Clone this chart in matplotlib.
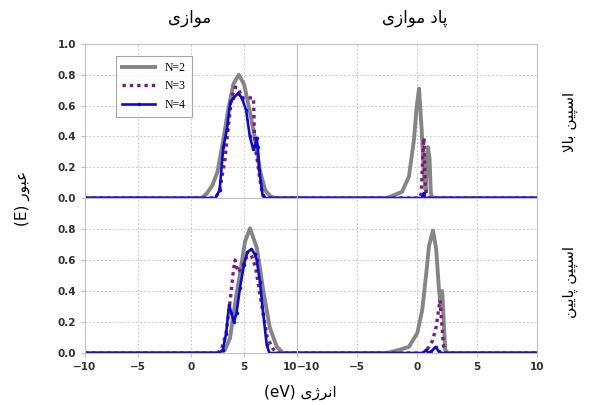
import matplotlib
matplotlib.use("Agg")
import matplotlib.pyplot as plt

# energies (eV) and transmission
# spin up, parallel
up_par_x2 = [-10, 1.0, 1.5, 2.0, 2.5, 3.0, 3.5, 4.0, 4.5, 5.0, 5.5, 6.0, 6.5, 7.0, 7.5, 8.0, 10]
up_par_y2 = [0, 0, 0.03, 0.08, 0.17, 0.36, 0.57, 0.74, 0.80, 0.74, 0.58, 0.40, 0.18, 0.05, 0.01, 0, 0]
up_par_x3 = [-10, 2.3, 2.7, 3.2, 3.5, 3.85, 4.2, 4.5, 4.8, 5.3, 5.9, 6.0, 6.2, 6.5, 6.75, 7.0, 10]
up_par_y3 = [0, 0, 0.05, 0.25, 0.45, 0.66, 0.72, 0.71, 0.65, 0.65, 0.65, 0.35, 0.27, 0.12, 0.02, 0, 0]
up_par_x4 = [-10, 2.3, 2.7, 3.05, 3.4, 3.7, 4.0, 4.45, 4.8, 5.2, 5.55, 5.85, 6.05, 6.2, 6.3, 6.45, 6.75, 7.0, 10]
up_par_y4 = [0, 0, 0.05, 0.33, 0.45, 0.62, 0.65, 0.68, 0.65, 0.57, 0.40, 0.32, 0.34, 0.39, 0.33, 0.18, 0.02, 0, 0]

# spin up, antiparallel
up_anti_x2 = [-10, -2.5, -1.25, -0.67, -0.25, -0.03, 0.17, 0.39, 0.58, 0.72, 0.85, 0.92, 1.05, 1.15, 1.3, 10]
up_anti_y2 = [0, 0, 0.04, 0.14, 0.38, 0.59, 0.71, 0.44, 0.14, 0.05, 0.30, 0.33, 0.25, 0.03, 0, 0]
up_anti_x3 = [-10, 0.2, 0.35, 0.5, 0.58, 0.68, 0.8, 1.0, 10]
up_anti_y3 = [0, 0, 0.03, 0.30, 0.39, 0.10, 0.02, 0, 0]
up_anti_x4 = [-10, 0.4, 0.55, 0.7, 10]
up_anti_y4 = [0, 0, 0.03, 0, 0]

# spin down, parallel
dn_par_x2 = [-10, 2.8, 3.2, 3.68, 4.0, 4.3, 4.62, 5.1, 5.57, 6.2, 6.5, 6.82, 7.45, 8.1, 8.7, 10]
dn_par_y2 = [0, 0, 0.02, 0.095, 0.25, 0.38, 0.51, 0.72, 0.805, 0.68, 0.55, 0.40, 0.16, 0.04, 0, 0]
dn_par_x3 = [-10, 2.5, 2.9, 3.3, 3.68, 4.0, 4.15, 4.45, 4.8, 5.25, 5.7, 6.1, 6.5, 6.82, 7.2, 7.7, 8.1, 10]
dn_par_y3 = [0, 0, 0.03, 0.12, 0.33, 0.53, 0.60, 0.52, 0.55, 0.62, 0.63, 0.55, 0.38, 0.25, 0.10, 0.03, 0, 0]
dn_par_x4 = [-10, 2.6, 3.0, 3.3, 3.6, 3.8, 4.05, 4.3, 4.62, 5.0, 5.3, 5.7, 6.0, 6.2, 6.5, 6.82, 7.15, 7.4, 10]
dn_par_y4 = [0, 0, 0.02, 0.12, 0.31, 0.26, 0.20, 0.26, 0.42, 0.57, 0.65, 0.67, 0.64, 0.60, 0.46, 0.25, 0.05, 0, 0]

# spin down, antiparallel
dn_anti_x2 = [-10, -2.5, -1.5, -0.67, 0.03, 0.44, 0.78, 1.0, 1.33, 1.6, 1.83, 1.95, 2.1, 2.2, 2.35, 2.6, 10]
dn_anti_y2 = [0, 0, 0.02, 0.04, 0.13, 0.28, 0.52, 0.69, 0.79, 0.67, 0.41, 0.33, 0.40, 0.25, 0.02, 0, 0]
dn_anti_x3 = [-10, 0.6, 1.0, 1.3, 1.6, 1.8, 1.92, 2.05, 2.2, 2.4, 10]
dn_anti_y3 = [0, 0, 0.04, 0.08, 0.17, 0.28, 0.34, 0.20, 0.05, 0, 0]
dn_anti_x4 = [-10, 0.5, 0.75, 0.95, 1.2, 1.55, 1.8, 2.0, 10]
dn_anti_y4 = [0, 0, 0.02, 0, 0.01, 0.04, 0.01, 0, 0]

series_labels = ["N=2", "N=3", "N=4"]
x_ticks = [-10, -5, 0, 5, 10]
y_ticks = [0.0, 0.2, 0.4, 0.6, 0.8, 1.0]

# minimal Persian shaping (matplotlib has no RTL layout)
FORMS = {
    'ا': ('\uFE8D', '\uFE8E', None, None),
    'ب': ('\uFE8F', '\uFE90', '\uFE91', '\uFE92'),
    'پ': ('\uFB56', '\uFB57', '\uFB58', '\uFB59'),
    'د': ('\uFEA9', '\uFEAA', None, None),
    'ر': ('\uFEAD', '\uFEAE', None, None),
    'ز': ('\uFEAF', '\uFEB0', None, None),
    'ژ': ('\uFB8A', '\uFB8B', None, None),
    'س': ('\uFEB1', '\uFEB2', '\uFEB3', '\uFEB4'),
    'ع': ('\uFEC9', '\uFECA', '\uFECB', '\uFECC'),
    'ل': ('\uFEDD', '\uFEDE', '\uFEDF', '\uFEE0'),
    'م': ('\uFEE1', '\uFEE2', '\uFEE3', '\uFEE4'),
    'ن': ('\uFEE5', '\uFEE6', '\uFEE7', '\uFEE8'),
    'و': ('\uFEED', '\uFEEE', None, None),
    'ی': ('\uFBFC', '\uFBFD', '\uFBFE', '\uFBFF'),
}


def rtl(text):
    out = []
    i = 0
    n = len(text)
    while i < n:
        c = text[i]
        if c not in FORMS:
            out.append(c)
            i += 1
            continue
        prev = text[i - 1] if i > 0 else ''
        joins_prev = prev in FORMS and FORMS[prev][2] is not None
        if c == 'ل' and i + 1 < n and text[i + 1] == 'ا':
            out.append('\uFEFC' if joins_prev else '\uFEFB')
            i += 2
            continue
        nxt = text[i + 1] if i + 1 < n else ''
        joins_next = nxt in FORMS and FORMS[c][2] is not None
        iso, fin, ini, med = FORMS[c]
        if joins_prev and joins_next:
            out.append(med)
        elif joins_prev:
            out.append(fin)
        elif joins_next:
            out.append(ini)
        else:
            out.append(iso)
        i += 1
    return ''.join(reversed(out))


FA = ['DejaVu Sans']
colors = ['#858585', '#7a1a80', '#0a0ad2']

fig = plt.figure(figsize=(6, 4.05), dpi=100)
W, H = 600.0, 405.0


def box(x0, x1, y0, y1):
    return [x0 / W, 1 - y1 / H, (x1 - x0) / W, (y1 - y0) / H]


panels = [
    (box(85, 297, 44, 198), [up_par_x2, up_par_x3, up_par_x4], [up_par_y2, up_par_y3, up_par_y4], 'tl'),
    (box(297, 537, 44, 198), [up_anti_x2, up_anti_x3, up_anti_x4], [up_anti_y2, up_anti_y3, up_anti_y4], 'tr'),
    (box(85, 297, 198, 353), [dn_par_x2, dn_par_x3, dn_par_x4], [dn_par_y2, dn_par_y3, dn_par_y4], 'bl'),
    (box(297, 537, 198, 353), [dn_anti_x2, dn_anti_x3, dn_anti_x4], [dn_anti_y2, dn_anti_y3, dn_anti_y4], 'br'),
]

axes = {}
for rect, xs, ys, key in panels:
    ax = fig.add_axes(rect)
    axes[key] = ax
    ax.plot(xs[0], ys[0], color=colors[0], lw=2.8, label=series_labels[0])
    ax.plot(xs[1], ys[1], color=colors[1], lw=2.4, linestyle=(0, (1, 1.2)), label=series_labels[1])
    ax.plot(xs[2], ys[2], color=colors[2], lw=1.9, marker='o', ms=1.5, label=series_labels[2])
    ax.set_xlim(-10, 10)
    ax.set_ylim(0, 1.0)
    ax.set_xticks(x_ticks)
    ax.set_yticks(y_ticks)
    ax.grid(True, color='#c8c8c8', linestyle=(0, (2, 2)), lw=0.7)
    ax.set_axisbelow(True)
    for s in ax.spines.values():
        s.set_color('#c0c0c0')
        s.set_linewidth(0.8)
    ax.tick_params(length=3, color='#c0c0c0', labelsize=7.5, labelcolor='#303030')
    for lab in ax.get_xticklabels() + ax.get_yticklabels():
        lab.set_fontweight('bold')
    if key in ('tl', 'tr'):
        ax.tick_params(labelbottom=False)
    if key in ('tr', 'br'):
        ax.tick_params(labelleft=False)
    if key == 'bl':
        ax.set_yticks(y_ticks[:-1])
        for lab in ax.get_yticklabels():
            lab.set_fontweight('bold')

# keep "10" and "-10" side by side like the original
axes['bl'].get_xticklabels()[-1].set_horizontalalignment('right')
axes['br'].get_xticklabels()[0].set_horizontalalignment('left')

leg = axes['tl'].legend(loc='upper left', bbox_to_anchor=(0.12, 0.96), frameon=True,
                        fancybox=False, edgecolor='#909090', handlelength=2.8,
                        prop={'family': 'Liberation Serif', 'size': 8.5},
                        borderpad=0.5, labelspacing=0.55)
leg.get_frame().set_linewidth(0.8)

fig.text(190 / W, 1 - 18 / H, rtl('موازی'), family=FA, fontsize=12, ha='center', va='center')
fig.text(415 / W, 1 - 18 / H, rtl('پاد موازی'), family=FA, fontsize=12, ha='center', va='center')
fig.text(570 / W, 1 - 122 / H, rtl('اسپین بالا'), family=FA, fontsize=11, rotation=90,
         ha='center', va='center')
fig.text(570 / W, 1 - 282 / H, rtl('اسپین پایین'), family=FA, fontsize=11, rotation=90,
         ha='center', va='center')
fig.text(22 / W, 1 - 198 / H, '(E) ' + rtl('عبور'), family=FA, fontsize=11, rotation=90,
         ha='center', va='center')
fig.text(300 / W, 1 - 392 / H, '(eV) ' + rtl('انرژی'), family=FA, fontsize=11,
         ha='center', va='center')

fig.savefig('out.png', dpi=100)
